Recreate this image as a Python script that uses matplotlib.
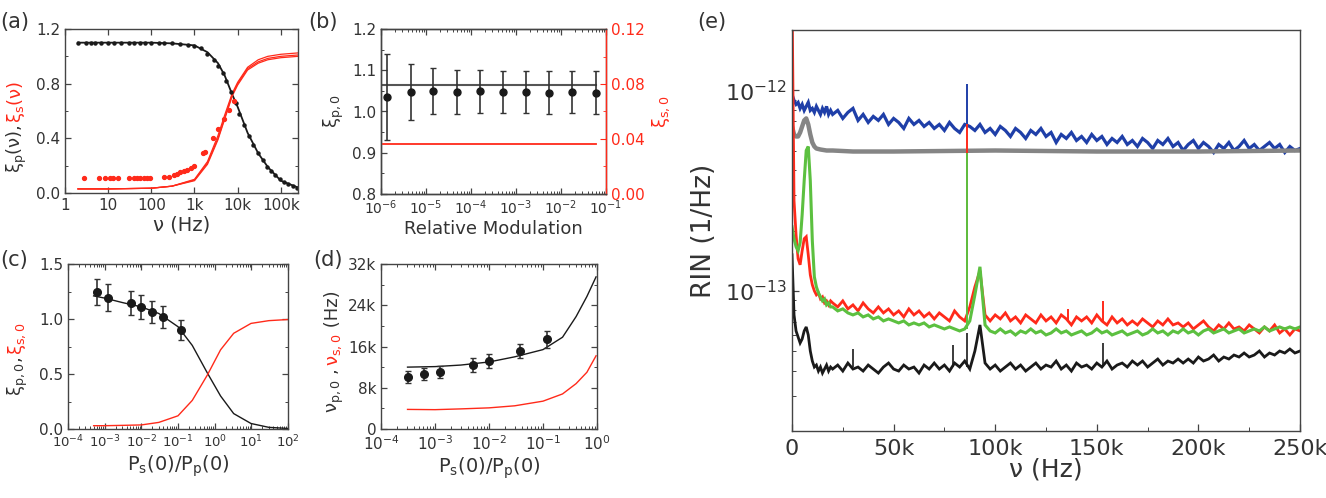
import numpy as np
import matplotlib
matplotlib.use("Agg")
import matplotlib.pyplot as plt
from matplotlib.ticker import (FixedLocator, LogLocator, MultipleLocator,
                               FuncFormatter, NullFormatter, LogFormatterMathtext)

plt.rcParams["font.family"] = ["DejaVu Sans"]
plt.rcParams["mathtext.fontset"] = "dejavusans"
plt.rcParams["axes.edgecolor"] = "#444444"
plt.rcParams["axes.linewidth"] = 1.0

BLACK = "#1a1a1a"
RED = "#ff2a1a"
BLUE = "#1f3fa8"
GRAY = "#858585"
GREEN = "#5cc040"
TXT = "#333333"

# ---------------- (a) xi_p(nu), xi_s(nu) vs modulation frequency
fit_hz = [2, 10, 100, 300, 1000, 2000, 3500, 5000, 7500, 10000, 17000, 30000, 50000, 100000, 250000]
xi_p_fit = [1.10, 1.10, 1.10, 1.095, 1.08, 1.03, 0.95, 0.86, 0.72, 0.63, 0.44, 0.29, 0.19, 0.09, 0.04]
xi_s_fit_1 = [0.03, 0.03, 0.035, 0.05, 0.095, 0.22, 0.40, 0.55, 0.72, 0.80, 0.91, 0.96, 0.985, 1.00, 1.01]
xi_s_fit_2 = [0.03, 0.03, 0.035, 0.05, 0.10, 0.23, 0.42, 0.57, 0.73, 0.81, 0.92, 0.975, 1.00, 1.015, 1.025]
xi_s_fit_3 = [0.03, 0.03, 0.035, 0.05, 0.09, 0.21, 0.39, 0.54, 0.71, 0.79, 0.90, 0.95, 0.975, 0.99, 1.00]

xi_p_hz = [2, 3, 4, 5, 7, 10, 14, 20, 30, 40,
           55, 70, 100, 150, 200, 300, 450, 700, 1000, 1400,
           2000, 2800, 3500, 4500, 5500, 7000, 9000, 11000, 14000, 18000,
           23000, 30000, 38000, 48000, 60000, 75000, 95000, 120000, 150000, 190000,
           240000]
xi_p_pts = [1.10, 1.10, 1.10, 1.10, 1.10, 1.10, 1.10, 1.10, 1.10, 1.10,
            1.10, 1.10, 1.10, 1.10, 1.095, 1.095, 1.09, 1.085, 1.075, 1.06,
            1.02, 0.97, 0.93, 0.88, 0.82, 0.74, 0.66, 0.58, 0.50, 0.42,
            0.35, 0.29, 0.24, 0.19, 0.16, 0.13, 0.10, 0.08, 0.065, 0.05,
            0.04]
xi_s_hz = [2.7, 6, 8.5, 11, 13, 17, 30, 39, 46, 56,
           67, 80, 95, 194, 253, 330, 395, 473, 566, 678,
           812, 972, 1600, 1780, 2700, 3500, 4800, 6300, 8200]
xi_s_pts = [0.11, 0.11, 0.11, 0.11, 0.11, 0.11, 0.11, 0.11, 0.11, 0.11,
            0.11, 0.11, 0.11, 0.115, 0.12, 0.13, 0.14, 0.15, 0.16, 0.17,
            0.185, 0.20, 0.29, 0.30, 0.40, 0.47, 0.54, 0.61, 0.67]

# ---------------- (b) xi_p,0 vs relative modulation
rel_mod = [1.35e-6, 4.7e-6, 1.45e-5, 4.9e-5, 1.6e-4, 5.1e-4, 1.66e-3, 5.4e-3, 1.74e-2, 6.0e-2]
xi_p0 = [1.035, 1.047, 1.049, 1.047, 1.049, 1.047, 1.048, 1.046, 1.047, 1.046]
xi_p0_err = [0.105, 0.068, 0.056, 0.053, 0.052, 0.051, 0.051, 0.051, 0.051, 0.051]
rel_mod_fit = [1.1e-6, 6.0e-2]
xi_p0_fit = [1.064, 1.064]
xi_s0_fit = [0.036, 0.036]

# ---------------- (c) xi vs Ps(0)/Pp(0)
ratio_c = [6.1e-4, 1.23e-3, 5.2e-3, 1.0e-2, 1.95e-2, 3.9e-2, 0.117]
xi_c = [1.248, 1.194, 1.143, 1.112, 1.06, 1.02, 0.90]
xi_c_err = [0.12, 0.12, 0.11, 0.11, 0.10, 0.10, 0.09]
ratio_c_fit = [5e-4, 1e-3, 3e-3, 1e-2, 3e-2, 0.1, 0.245, 0.63, 1.45, 3.3, 9.8, 30, 97]
xi_p_c_fit = [1.21, 1.19, 1.15, 1.11, 1.05, 0.93, 0.76, 0.51, 0.30, 0.14, 0.05, 0.015, 0.005]
xi_s_c_fit = [0.03, 0.03, 0.033, 0.037, 0.06, 0.12, 0.26, 0.49, 0.72, 0.87, 0.96, 0.985, 0.995]

# ---------------- (d) corner frequencies vs Ps(0)/Pp(0)
ratio_d = [3.1e-4, 6.3e-4, 1.24e-3, 5e-3, 1e-2, 3.7e-2, 0.117]
nu_p0 = [10100, 10700, 11100, 12400, 13200, 15100, 17400]
nu_p0_err = [1150, 1150, 1150, 1300, 1300, 1400, 1700]
ratio_d_fit = [3.1e-4, 1e-3, 3e-3, 1e-2, 3e-2, 0.1, 0.23, 0.41, 0.65, 0.96]
nu_p_d_fit = [12000, 12100, 12400, 13000, 14000, 15400, 17800, 21800, 25700, 29500]
nu_s_d_fit = [3800, 3750, 3900, 4100, 4500, 5400, 6800, 8800, 11000, 14200]

# ---------------- (e) RIN spectra, log10 values
rin_khz = np.concatenate([np.arange(0, 20, 1.0), np.arange(20, 250.01, 2.5)])

blue_fine = [-12.02, -12.05, -12.07, -12.06, -12.09, -12.07, -12.10, -12.08, -12.06, -12.10,
             -12.09, -12.11, -12.08, -12.10, -12.12, -12.09, -12.11, -12.08, -12.12, -12.10]
blue_coarse = [-12.12, -12.10, -12.14, -12.11, -12.09, -12.15, -12.12, -12.16, -12.13, -12.15,
               -12.12, -12.17, -12.14, -12.16, -12.19, -12.14, -12.17, -12.15, -12.18, -12.16,
               -12.19, -12.17, -12.20, -12.16, -12.19, -12.21, -12.17, -12.18, -12.20, -12.17,
               -12.21, -12.19, -12.22, -12.18, -12.20, -12.23, -12.19, -12.21, -12.24, -12.20,
               -12.22, -12.19, -12.23, -12.21, -12.26, -12.22, -12.24, -12.21, -12.25, -12.23,
               -12.26, -12.22, -12.25, -12.23, -12.27, -12.24, -12.26, -12.23, -12.27, -12.25,
               -12.28, -12.24, -12.26, -12.29, -12.25, -12.27, -12.24, -12.28, -12.26, -12.30,
               -12.27, -12.25, -12.29, -12.26, -12.28, -12.31, -12.27, -12.29, -12.26, -12.30,
               -12.28, -12.25, -12.29, -12.27, -12.30, -12.28, -12.26, -12.29, -12.27, -12.31,
               -12.28, -12.30, -12.29]

red_fine = [-11.50, -12.55, -12.72, -12.84, -12.87, -12.80, -12.74, -12.73, -12.82, -12.92,
            -12.97, -13.00, -13.02, -13.01, -13.04, -13.03, -13.06, -13.05, -13.07, -13.05]
red_coarse = [-13.06, -13.08, -13.05, -13.09, -13.07, -13.10, -13.06, -13.09, -13.11, -13.08,
              -13.11, -13.09, -13.12, -13.10, -13.13, -13.09, -13.12, -13.10, -13.13, -13.11,
              -13.14, -13.11, -13.13, -13.15, -13.10, -13.13, -13.15, -13.08, -12.98, -12.90,
              -13.12, -13.15, -13.12, -13.14, -13.11, -13.15, -13.13, -13.16, -13.12, -13.14,
              -13.16, -13.12, -13.15, -13.13, -13.16, -13.12, -13.14, -13.17, -13.13, -13.15,
              -13.13, -13.16, -13.12, -13.15, -13.17, -13.13, -13.16, -13.14, -13.17, -13.15,
              -13.17, -13.14, -13.16, -13.18, -13.15, -13.17, -13.14, -13.17, -13.16, -13.18,
              -13.16, -13.19, -13.17, -13.15, -13.18, -13.20, -13.17, -13.19, -13.16, -13.19,
              -13.18, -13.20, -13.17, -13.19, -13.21, -13.18, -13.20, -13.17, -13.21, -13.19,
              -13.22, -13.19, -13.20]

green_fine = [-12.68, -12.74, -12.78, -12.80, -12.76, -12.62, -12.45, -12.30, -12.28, -12.45,
              -12.75, -12.93, -12.98, -13.01, -13.03, -13.05, -13.04, -13.07, -13.06, -13.08]
green_coarse = [-13.08, -13.10, -13.09, -13.11, -13.12, -13.11, -13.13, -13.12, -13.14, -13.13,
                -13.15, -13.14, -13.15, -13.16, -13.15, -13.17, -13.16, -13.17, -13.16, -13.18,
                -13.17, -13.18, -13.19, -13.18, -13.19, -13.20, -13.19, -13.15, -13.02, -12.88,
                -13.17, -13.20, -13.21, -13.19, -13.21, -13.20, -13.22, -13.20, -13.21, -13.19,
                -13.21, -13.20, -13.22, -13.21, -13.19, -13.21, -13.20, -13.22, -13.21, -13.20,
                -13.22, -13.21, -13.19, -13.21, -13.20, -13.22, -13.21, -13.20, -13.22, -13.21,
                -13.20, -13.22, -13.21, -13.19, -13.21, -13.20, -13.22, -13.20, -13.21, -13.19,
                -13.21, -13.20, -13.22, -13.20, -13.19, -13.21, -13.20, -13.19, -13.21, -13.20,
                -13.19, -13.21, -13.20, -13.19, -13.20, -13.18, -13.20, -13.19, -13.18, -13.19,
                -13.18, -13.19, -13.18]

black_fine = [-12.82, -13.12, -13.20, -13.23, -13.26, -13.24, -13.20, -13.18, -13.22, -13.30,
              -13.35, -13.38, -13.37, -13.40, -13.38, -13.41, -13.39, -13.37, -13.40, -13.38]
black_coarse = [-13.39, -13.37, -13.40, -13.36, -13.39, -13.38, -13.40, -13.37, -13.39, -13.41,
                -13.38, -13.36, -13.39, -13.40, -13.37, -13.39, -13.38, -13.41, -13.37, -13.39,
                -13.36, -13.39, -13.37, -13.40, -13.36, -13.38, -13.35, -13.39, -13.30, -13.17,
                -13.36, -13.39, -13.37, -13.40, -13.38, -13.36, -13.39, -13.37, -13.40, -13.38,
                -13.36, -13.39, -13.37, -13.38, -13.35, -13.39, -13.37, -13.40, -13.36, -13.38,
                -13.37, -13.39, -13.36, -13.38, -13.35, -13.39, -13.37, -13.36, -13.38, -13.35,
                -13.37, -13.35, -13.38, -13.36, -13.34, -13.37, -13.35, -13.36, -13.34, -13.36,
                -13.34, -13.36, -13.33, -13.35, -13.34, -13.32, -13.35, -13.33, -13.34, -13.32,
                -13.33, -13.31, -13.33, -13.32, -13.30, -13.33, -13.31, -13.32, -13.30, -13.31,
                -13.29, -13.31, -13.30]

gray_khz = [0, 1, 2, 3, 4, 5, 6, 7, 8, 9, 10, 11, 12, 14, 17, 20, 30, 50, 100, 150, 200, 250]
gray_log = [-12.18, -12.22, -12.23, -12.23, -12.21, -12.18, -12.15, -12.14, -12.17, -12.22,
            -12.26, -12.28, -12.29, -12.295, -12.30, -12.30, -12.305, -12.305, -12.30, -12.305,
            -12.305, -12.30]

# narrow spectral lines: frequency (kHz), bottom and top (log10)
blue_line_khz, blue_line_lo, blue_line_hi = [86], [-12.19], [-11.97]
red_line_khz, red_line_lo, red_line_hi = [86, 136, 153], [-13.13, -13.15, -13.16], [-12.17, -13.09, -13.05]
green_line_khz, green_line_lo, green_line_hi = [86], [-13.19], [-12.31]
black_line_khz = [30, 79, 86, 153]
black_line_lo = [-13.38, -13.38, -13.38, -13.38]
black_line_hi = [-13.29, -13.27, -13.21, -13.26]


def box(x0, y0, x1, y1):
    """Axes rectangle from pixel corners of the 1326x498 canvas."""
    return [x0 / 1326, 1 - y1 / 498, (x1 - x0) / 1326, (y1 - y0) / 498]


def style(ax, size=11, right=True):
    ax.tick_params(which="both", direction="in", top=True, right=right,
                   labelsize=size, labelcolor=TXT, color="#444444")
    ax.tick_params(which="major", length=4, width=0.9)
    ax.tick_params(which="minor", length=2, width=0.7)


def log_decades(ax):
    ax.xaxis.set_major_locator(LogLocator(numticks=12))
    ax.xaxis.set_major_formatter(LogFormatterMathtext())
    ax.xaxis.set_minor_locator(LogLocator(subs=range(2, 10), numticks=12))
    ax.xaxis.set_minor_formatter(NullFormatter())


def stacked_label(ax, pieces, x, y, size):
    """Vertical label built from differently coloured pieces, read bottom to top."""
    renderer = ax.figure.canvas.get_renderer()
    for text, color in pieces:
        t = ax.text(x, y, text, color=color, fontsize=size, rotation=90,
                    rotation_mode="anchor", ha="left", va="baseline",
                    transform=ax.transAxes)
        y += t.get_window_extent(renderer).height / ax.bbox.height


def spectrum(ax, fine, coarse, color, lw):
    ax.plot(rin_khz * 1000, 10 ** np.array(fine + coarse), color=color, lw=lw, solid_joinstyle="miter")


def lines(ax, khz, lo, hi, color, lw=1.4):
    ax.vlines(np.array(khz) * 1000, 10 ** np.array(lo), 10 ** np.array(hi), color=color, lw=lw)


fig = plt.figure(figsize=(13.26, 4.98), dpi=100)

# (a)
ax = fig.add_axes(box(65, 29, 298, 193))
ax.plot(fit_hz, xi_p_fit, color=BLACK, lw=1.3)
for curve in (xi_s_fit_1, xi_s_fit_2, xi_s_fit_3):
    ax.plot(fit_hz, curve, color=RED, lw=0.9)
ax.plot(xi_p_hz, xi_p_pts, "o", ms=2.2, color=BLACK)
ax.plot(xi_s_hz, xi_s_pts, "o", ms=2.8, color=RED)
ax.set_xscale("log")
ax.set_xlim(1, 2.5e5)
ax.set_ylim(0, 1.2)
ax.xaxis.set_major_locator(FixedLocator([1, 10, 100, 1e3, 1e4, 1e5]))
ax.set_xticklabels(["1", "10", "100", "1k", "10k", "100k"])
ax.xaxis.set_minor_locator(LogLocator(subs=range(2, 10)))
ax.xaxis.set_minor_formatter(NullFormatter())
ax.yaxis.set_major_locator(MultipleLocator(0.4))
ax.yaxis.set_minor_locator(MultipleLocator(0.2))
ax.yaxis.set_major_formatter(FuncFormatter(lambda v, p: f"{v:.1f}"))
style(ax)
ax.set_xlabel("ν (Hz)", fontsize=14, color=TXT, labelpad=2)
stacked_label(ax, [("ξ$_{\\mathrm{p}}$(ν), ", TXT), ("ξ$_{\\mathrm{s}}$(ν)", RED)], -0.19, 0.12, 13)

# (b)
ax = fig.add_axes(box(381, 29, 606, 194))
ax.plot(rel_mod_fit, xi_p0_fit, color="#555555", lw=1.5)
ax.errorbar(rel_mod, xi_p0, yerr=xi_p0_err, fmt="o", ms=5, color=BLACK,
            ecolor="#333333", elinewidth=1.2, capsize=2.5, capthick=1.0)
ax.set_xscale("log")
ax.set_xlim(1e-6, 1e-1)
ax.set_ylim(0.8, 1.2)
log_decades(ax)
ax.yaxis.set_major_locator(MultipleLocator(0.1))
ax.yaxis.set_minor_locator(MultipleLocator(0.05))
style(ax, right=False)
ax.tick_params(axis="x", labelsize=10)
ax.set_xlabel("Relative Modulation", fontsize=13, color=TXT, labelpad=2)
ax.set_ylabel("ξ$_{\\mathrm{p,0}}$", fontsize=13, color=TXT, labelpad=4)
ax2 = ax.twinx()
ax2.plot(rel_mod_fit, xi_s0_fit, color=RED, lw=1.3)
ax2.set_ylim(0, 0.12)
ax2.yaxis.set_major_locator(MultipleLocator(0.04))
ax2.yaxis.set_minor_locator(MultipleLocator(0.02))
ax2.yaxis.set_major_formatter(FuncFormatter(lambda v, p: f"{v:.2f}"))
ax2.tick_params(which="both", direction="in", labelsize=11, colors=RED)
ax2.tick_params(which="major", length=4)
ax2.tick_params(which="minor", length=2)
ax2.spines["right"].set_color(RED)
ax2.set_ylabel("ξ$_{\\mathrm{s,0}}$", fontsize=13, color=RED, labelpad=4)

# (c)
ax = fig.add_axes(box(68, 264, 288, 429))
ax.plot(ratio_c_fit, xi_p_c_fit, color=BLACK, lw=1.0)
ax.plot(ratio_c_fit, xi_s_c_fit, color=RED, lw=1.0)
ax.errorbar(ratio_c, xi_c, yerr=xi_c_err, fmt="o", ms=5.5, color=BLACK,
            ecolor="#333333", elinewidth=1.2, capsize=2.5, capthick=1.0)
ax.set_xscale("log")
ax.set_xlim(1e-4, 1e2)
ax.set_ylim(0, 1.5)
log_decades(ax)
ax.yaxis.set_major_locator(MultipleLocator(0.5))
ax.yaxis.set_minor_locator(MultipleLocator(0.25))
ax.yaxis.set_major_formatter(FuncFormatter(lambda v, p: f"{v:.1f}"))
style(ax)
ax.tick_params(axis="x", labelsize=9.5)
ax.set_xlabel("P$_{\\mathrm{s}}$(0)/P$_{\\mathrm{p}}$(0)", fontsize=14, color=TXT, labelpad=2)
stacked_label(ax, [("ξ$_{\\mathrm{p,0}}$, ", TXT), ("ξ$_{\\mathrm{s,0}}$", RED)], -0.21, 0.2, 13)

# (d)
ax = fig.add_axes(box(381, 264, 597, 429))
ax.plot(ratio_d_fit, nu_p_d_fit, color=BLACK, lw=1.0)
ax.plot(ratio_d_fit, nu_s_d_fit, color=RED, lw=1.0)
ax.errorbar(ratio_d, nu_p0, yerr=nu_p0_err, fmt="o", ms=5.5, color=BLACK,
            ecolor="#333333", elinewidth=1.2, capsize=2.5, capthick=1.0)
ax.set_xscale("log")
ax.set_xlim(1e-4, 1e0)
ax.set_ylim(0, 32000)
log_decades(ax)
ax.yaxis.set_major_locator(MultipleLocator(8000))
ax.yaxis.set_minor_locator(MultipleLocator(4000))
ax.yaxis.set_major_formatter(FuncFormatter(lambda v, p: "0" if v == 0 else f"{v / 1000:.0f}k"))
style(ax)
ax.set_xlabel("P$_{\\mathrm{s}}$(0)/P$_{\\mathrm{p}}$(0)", fontsize=14, color=TXT, labelpad=2)
stacked_label(ax, [("ν$_{\\mathrm{p,0}}$ , ", TXT), ("ν$_{\\mathrm{s,0}}$", RED), (" (Hz)", TXT)],
              -0.20, 0.10, 13)

# (e)
ax = fig.add_axes(box(792, 30, 1300, 431))
spectrum(ax, blue_fine, blue_coarse, BLUE, 2.3)
lines(ax, blue_line_khz, blue_line_lo, blue_line_hi, BLUE)
ax.plot(np.array(gray_khz) * 1000, 10 ** np.array(gray_log), color=GRAY, lw=3.2)
spectrum(ax, red_fine, red_coarse, RED, 2.0)
lines(ax, red_line_khz, red_line_lo, red_line_hi, RED)
spectrum(ax, green_fine, green_coarse, GREEN, 2.2)
lines(ax, green_line_khz, green_line_lo, green_line_hi, GREEN)
spectrum(ax, black_fine, black_coarse, BLACK, 2.0)
lines(ax, black_line_khz, black_line_lo, black_line_hi, BLACK, lw=1.2)
ax.set_yscale("log")
ax.set_xlim(0, 250000)
ax.set_ylim(2e-14, 2e-12)
ax.xaxis.set_major_locator(MultipleLocator(50000))
ax.xaxis.set_minor_locator(MultipleLocator(25000))
ax.xaxis.set_major_formatter(FuncFormatter(lambda v, p: "0" if v == 0 else f"{v / 1000:.0f}k"))
ax.yaxis.set_major_locator(LogLocator())
ax.yaxis.set_major_formatter(LogFormatterMathtext())
ax.yaxis.set_minor_locator(LogLocator(subs=range(2, 10)))
ax.yaxis.set_minor_formatter(NullFormatter())
ax.tick_params(which="both", direction="in", labelsize=16, labelcolor=TXT, color="#444444")
ax.tick_params(which="major", length=5, width=0.9)
ax.tick_params(which="minor", length=3, width=0.7)
ax.tick_params(axis="x", pad=6)
ax.set_xlabel("ν (Hz)", fontsize=18, color=TXT, labelpad=-1)
ax.set_ylabel("RIN (1/Hz)", fontsize=19, color=TXT, labelpad=6)

# panel letters
for label, x, y in [("(a)", 0, 22), ("(b)", 308, 22), ("(c)", 0, 260), ("(d)", 313, 260), ("(e)", 697, 22)]:
    fig.text(x / 1326, 1 - y / 498, label, fontsize=15, color=TXT, ha="left", va="center")

fig.savefig("out.png", dpi=100)
